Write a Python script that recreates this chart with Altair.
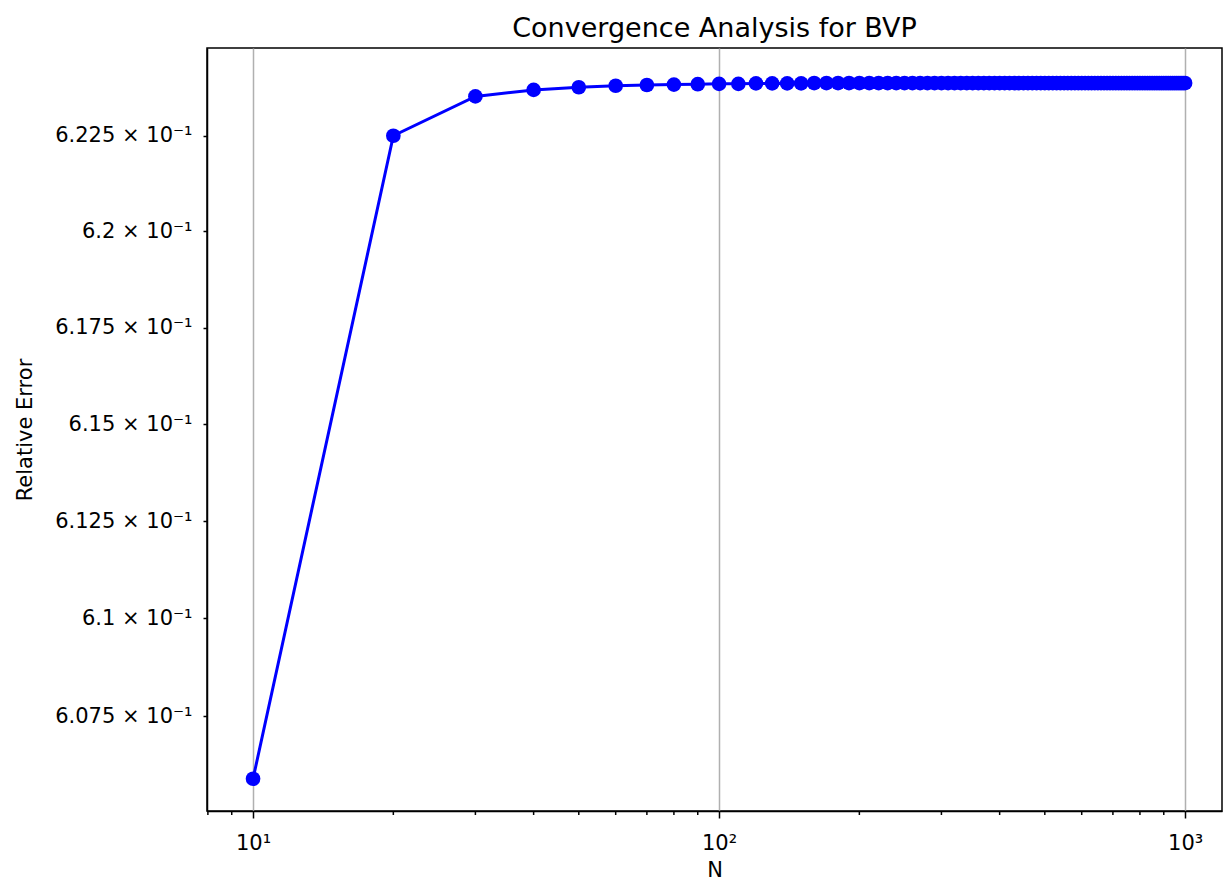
import altair as alt
import pandas as pd

# ---- data ----
N_values = list(range(10, 1001, 10))
rel_error = [
    0.60590, 0.62250, 0.62353, 0.62370, 0.62377, 0.62381, 0.62383, 0.62384, 0.62385, 0.62386,
    0.62386, 0.62387, 0.62387, 0.62387, 0.62387, 0.62388, 0.62388, 0.62388, 0.62388, 0.62388,
    0.62388, 0.62388, 0.62388, 0.62388, 0.62388, 0.62388, 0.62388, 0.62388, 0.62388, 0.62388,
    0.62388, 0.62388, 0.62388, 0.62388, 0.62388, 0.62388, 0.62388, 0.62388, 0.62388, 0.62388,
    0.62388, 0.62388, 0.62388, 0.62388, 0.62388, 0.62388, 0.62388, 0.62388, 0.62388, 0.62388,
    0.62388, 0.62388, 0.62388, 0.62388, 0.62388, 0.62388, 0.62388, 0.62388, 0.62388, 0.62388,
    0.62388, 0.62388, 0.62388, 0.62388, 0.62388, 0.62388, 0.62388, 0.62388, 0.62388, 0.62388,
    0.62388, 0.62388, 0.62388, 0.62388, 0.62388, 0.62388, 0.62388, 0.62388, 0.62388, 0.62388,
    0.62388, 0.62388, 0.62388, 0.62388, 0.62388, 0.62388, 0.62388, 0.62388, 0.62388, 0.62388,
    0.62388, 0.62388, 0.62388, 0.62388, 0.62388, 0.62388, 0.62388, 0.62388, 0.62388, 0.62388,
]
x_tick_values = [10, 100, 1000]
x_tick_labels = ["10¹", "10²", "10³"]
x_minor_ticks = [8, 9, 20, 30, 40, 50, 60, 70, 80, 90,
                 200, 300, 400, 500, 600, 700, 800, 900]
y_tick_values = [0.6075, 0.61, 0.6125, 0.615, 0.6175, 0.62, 0.6225]
y_tick_labels = ["6.075 × 10⁻¹", "6.1 × 10⁻¹", "6.125 × 10⁻¹", "6.15 × 10⁻¹",
                 "6.175 × 10⁻¹", "6.2 × 10⁻¹", "6.225 × 10⁻¹"]

df = pd.DataFrame({"N": N_values, "err": rel_error})
minor_df = pd.DataFrame({"N": x_minor_ticks})


def label_expr(values, labels):
    expr = "''"
    for v, lab in zip(reversed(values), reversed(labels)):
        expr = f"abs(datum.value - {v}) < 1e-9 ? '{lab}' : ({expr})"
    return expr


FONT = "DejaVu Sans"
W, H = 1015, 763

x_enc = alt.X(
    "N:Q",
    title="N",
    scale=alt.Scale(type="log", domain=[7.965, 1200], nice=False),
    axis=alt.Axis(
        values=x_tick_values,
        labelExpr=label_expr(x_tick_values, x_tick_labels),
        grid=True, gridColor="#b0b0b0", gridWidth=1.5,
        tickSize=7, tickWidth=1.5, tickColor="black",
        domainColor="black", domainWidth=1.5,
        labelPadding=14, labelFontSize=21, labelFont=FONT, labelColor="black",
        titleFontSize=21, titleFont=FONT, titleFontWeight="normal", titleColor="black",
        titlePadding=6, labelFlush=False,
    ),
)

y_enc = alt.Y(
    "err:Q",
    title="Relative Error",
    scale=alt.Scale(type="log", domain=[0.60508, 0.62480], nice=False, zero=False),
    axis=alt.Axis(
        values=y_tick_values,
        labelExpr=label_expr(y_tick_values, y_tick_labels),
        grid=False,
        tickSize=4, tickWidth=1.5, tickColor="black",
        domainColor="black", domainWidth=1.5,
        labelPadding=11, labelFontSize=21, labelFont=FONT, labelColor="black",
        titleFontSize=21, titleFont=FONT, titleFontWeight="normal", titleColor="black",
        titlePadding=19, labelFlush=False,
    ),
)

line = alt.Chart(df).mark_line(color="#0000ff", strokeWidth=3).encode(x=x_enc, y=y_enc)
pts = alt.Chart(df).mark_circle(color="#0000ff", size=215, opacity=1).encode(x=x_enc, y=y_enc)
minor = alt.Chart(minor_df).mark_rule(color="black", strokeWidth=1.5).encode(
    x=x_enc, y=alt.value(H), y2=alt.value(H + 4)
)

chart = (
    alt.layer(line, pts, minor)
    .properties(
        width=W, height=H,
        title=alt.TitleParams(
            "Convergence Analysis for BVP", fontSize=27, font=FONT,
            fontWeight="normal", color="black", offset=5,
        ),
        padding={"left": 6, "top": 7, "right": 1, "bottom": 0},
    )
    .configure(background="white")
    .configure_view(stroke="black", strokeWidth=1.5)
)

chart.save("out.html", embed_options={"renderer": "svg", "actions": False})
